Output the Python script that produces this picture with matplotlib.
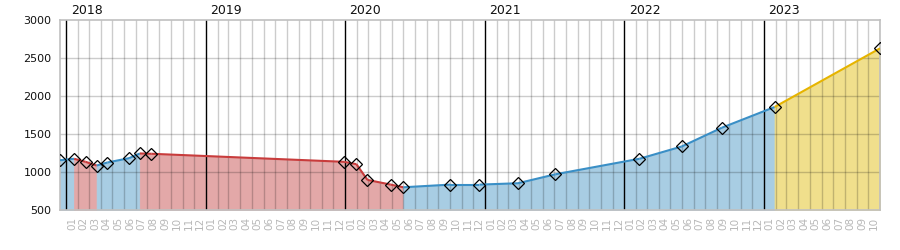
import matplotlib
matplotlib.use("Agg")
import matplotlib.pyplot as plt
import matplotlib.dates as mdates
import pandas as pd
import numpy as np

# ---- data ----
dates = ["2017-12-15", "2018-01-21", "2018-02-20", "2018-03-21", "2018-04-18",
         "2018-06-14", "2018-07-12", "2018-08-11", "2019-12-29", "2020-01-30",
         "2020-02-28", "2020-04-29", "2020-06-01", "2020-10-02", "2020-12-17",
         "2021-03-28", "2021-07-04", "2022-02-09", "2022-05-31", "2022-09-13",
         "2023-01-29", "2023-11-01"]
values = [1155, 1174, 1134, 1085, 1125, 1182, 1244, 1240, 1134, 1103,
          896, 834, 799, 834, 834, 852, 970, 1174, 1336, 1583, 1855, 2627]
n_actual = 21  # points after this are forecast
years = ["2018", "2019", "2020", "2021", "2022", "2023"]
y_ticks = [500, 1000, 1500, 2000, 2500, 3000]

# ---- style ----
fill_up, line_up = "#a8cde3", "#3a8fc6"
fill_dn, line_dn = "#e3a8a8", "#c83c3c"
fill_fc, line_fc = "#f0df8c", "#e6b400"

x = mdates.date2num(pd.to_datetime(dates).to_pydatetime())
v = np.array(values, dtype=float)

fig = plt.figure(figsize=(9, 2.5), dpi=100)
ax = fig.add_axes([60/900, 1-210/250, 820/900, 190/250])
ymin, ymax = y_ticks[0], y_ticks[-1]

for i in range(len(x) - 1):
    if i + 1 >= n_actual:
        fc, lc = fill_fc, line_fc
    elif v[i + 1] > v[i] or (v[i + 1] == v[i] and i > 0 and v[i] >= v[i-1]):
        fc, lc = fill_up, line_up
    else:
        fc, lc = fill_dn, line_dn
    xs, ys = [x[i], x[i + 1]], [v[i], v[i + 1]]
    ax.fill_between(xs, ys, ymin, color=fc, lw=0.6, edgecolor=fc, zorder=1)
    ax.plot(xs, ys, color=lc, lw=1.5, solid_capstyle="butt", zorder=3)

ax.plot(x, v, linestyle="none", marker="D", markersize=6.5,
        markerfacecolor="none", markeredgecolor="black", markeredgewidth=0.9,
        zorder=4)

ax.set_xlim(x[0], x[-1])
ax.set_ylim(ymin, ymax)

# month grid lines and labels
start = pd.Timestamp(years[0] + "-01-01")
end = pd.Timestamp(dates[-1])
month_starts = pd.date_range(start, end, freq="MS")
for m in month_starts:
    mx = mdates.date2num(m.to_pydatetime())
    if m.month == 1:
        ax.axvline(mx, color="black", lw=1.0, zorder=2)
        ax.annotate(str(m.year), xy=(mx, ymax), xycoords="data",
                    xytext=(3, 2.5), textcoords="offset points",
                    fontsize=9, ha="left", va="bottom", color="#111111",
                    annotation_clip=False)
    else:
        ax.axvline(mx, color="black", alpha=0.2, lw=1.0, zorder=2)
month_mids = []
month_labels = []
for m in month_starts:
    nxt = m + pd.offsets.MonthBegin(1)
    if nxt > end + pd.Timedelta(days=1):
        continue
    mid = mdates.date2num((m + (nxt - m) / 2).to_pydatetime())
    month_mids.append(mid)
    month_labels.append(f"{m.month:02d}")

for yt in y_ticks[1:-1]:
    ax.axhline(yt, color="black", alpha=0.2, lw=1.0, zorder=2)

ax.set_xticks(month_mids)
ax.set_xticklabels(month_labels, rotation=90, fontsize=7.5, color="#b8b8b8")
ax.set_yticks(y_ticks)
ax.set_yticklabels([str(t) for t in y_ticks], fontsize=8, color="#111111")
ax.tick_params(axis="both", length=0)
ax.tick_params(axis="x", pad=5)
ax.tick_params(axis="y", pad=6)
for s in ax.spines.values():
    s.set_color("#c0c0c0")
    s.set_linewidth(1.2)

fig.savefig("out.png", dpi=100)
